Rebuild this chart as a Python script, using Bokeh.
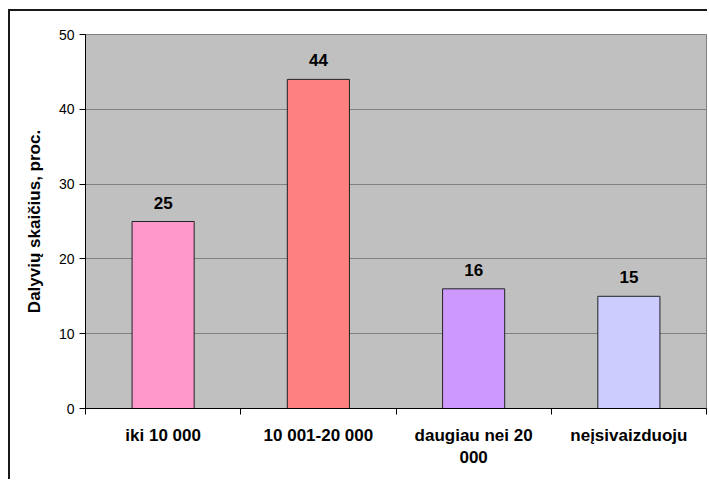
from bokeh.plotting import figure
from bokeh.models import Range1d, FixedTicker, ColumnDataSource
from bokeh.core.properties import value
from bokeh.embed import file_html
from bokeh.resources import INLINE

categories = ["iki 10 000", "10 001-20 000", "daugiau nei 20\n000", "neįsivaizduoju"]
values = [25, 44, 16, 15]
colors = ["#FF99CC", "#FF8080", "#CC99FF", "#CCCCFF"]
y_ticks = [0, 10, 20, 30, 40, 50]
y_label = "Dalyvių skaičius, proc."

FONT = "Liberation Sans"

xs = [i + 0.5 for i in range(len(categories))]
src = ColumnDataSource(dict(x=xs, top=values, color=colors,
                            label=[str(v) for v in values]))

p = figure(width=699, height=470, output_backend="svg", toolbar_location=None,
           x_range=Range1d(0, len(categories)), y_range=Range1d(0, 50),
           min_border_left=75, min_border_top=23, min_border_right=3,
           min_border_bottom=73)
p.styles = {"margin-left": "8px", "margin-top": "9px",
            "border-left": "2px solid #1a1a1a", "border-top": "2px solid #1a1a1a"}

p.background_fill_color = "#C0C0C0"
p.border_fill_color = "white"
p.outline_line_color = "#808080"
p.outline_line_width = 1

p.vbar(x="x", top="top", width=0.4, bottom=0, fill_color="color",
       line_color="#222222", line_width=1, source=src)

p.text(x="x", y="top", text="label", source=src, text_align="center",
       text_baseline="alphabetic", y_offset=-19, text_font=value(FONT),
       text_font_size="17px", text_font_style="bold", text_color="black")

# x axis
p.xaxis.ticker = FixedTicker(ticks=xs, minor_ticks=list(range(len(categories) + 1)))
p.xaxis.major_label_overrides = {x: c for x, c in zip(xs, categories)}
p.xaxis.major_tick_line_color = None
p.xaxis.major_tick_out = 5
p.xaxis.major_tick_in = 0
p.xaxis.minor_tick_out = 6
p.xaxis.minor_tick_in = 0
p.xaxis.minor_tick_line_color = "black"
p.xaxis.axis_line_color = "black"
p.xaxis.major_label_text_font = FONT
p.xaxis.major_label_text_font_size = "17px"
p.xaxis.major_label_text_font_style = "bold"
p.xaxis.major_label_text_color = "black"
p.xaxis.major_label_standoff = 11

# y axis
p.yaxis.ticker = FixedTicker(ticks=y_ticks)
p.yaxis.minor_tick_line_color = None
p.yaxis.major_tick_out = 6
p.yaxis.major_tick_in = 0
p.yaxis.major_tick_line_color = "black"
p.yaxis.axis_line_color = "black"
p.yaxis.major_label_text_font = FONT
p.yaxis.major_label_text_font_size = "14px"
p.yaxis.major_label_text_color = "black"
p.yaxis.major_label_standoff = 5
p.yaxis.axis_label = y_label
p.yaxis.axis_label_text_font = FONT
p.yaxis.axis_label_text_font_size = "17px"
p.yaxis.axis_label_text_font_style = "bold"
p.yaxis.axis_label_text_color = "black"
p.yaxis.axis_label_standoff = 12

p.xgrid.grid_line_color = None
p.ygrid.ticker = FixedTicker(ticks=y_ticks)
p.ygrid.grid_line_color = "#808080"
p.ygrid.grid_line_width = 1

open("out.html", "w").write(file_html(p, INLINE))
